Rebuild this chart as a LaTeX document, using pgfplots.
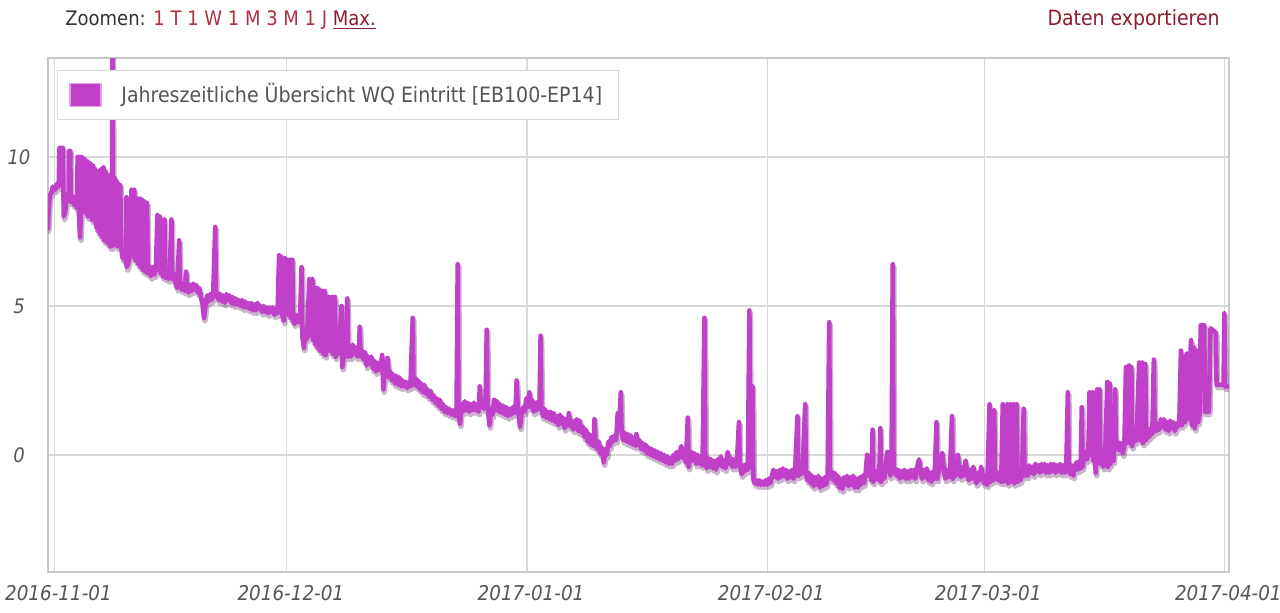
\documentclass[border=0pt]{standalone}
\usepackage{fontspec}
\setmainfont{DejaVu Sans Condensed}
\usepackage{pgfplots}
\pgfplotsset{compat=1.18}
\usepackage{pgfplotstable}
\definecolor{mainp}{RGB}{192,64,202}
\definecolor{shadowp}{RGB}{100,40,110}
\definecolor{legborder}{RGB}{225,160,232}
\definecolor{gridgray}{RGB}{216,216,216}
\definecolor{bordergray}{RGB}{200,200,200}
\definecolor{tickgray}{RGB}{85,85,85}
\definecolor{linkred}{RGB}{176,48,64}
\definecolor{darkred}{RGB}{140,28,44}

\pgfplotstableread{
d v
-0.85 7.6
-0.75 8.2
-0.6 8.7
-0.4 8.8
-0.2 9.0
0.1 8.9
0.3 9.1
0.55 9.0
0.65 10.3
1.1 10.3
1.2 8.0
1.4 8.2
1.6 8.7
1.85 8.7
1.9 10.2
2.05 10.2
2.1 8.5
2.3 8.7
2.5 8.4
2.7 8.6
2.9 8.3
3.0 10.0
3.1 10.0
3.15 8.2
3.3 7.3
3.45 8.2
3.5 10.0
3.6 8.3
3.75 9.95
3.85 8.2
4.0 9.9
4.1 8.1
4.25 9.85
4.35 8.0
4.5 9.8
4.6 8.0
4.75 9.75
4.85 7.9
5.0 9.7
5.1 7.9
5.2 9.6
5.3 7.8
5.5 7.6
5.6 9.5
5.7 7.5
5.85 9.55
5.95 7.4
6.1 9.6
6.2 7.3
6.35 9.65
6.45 7.2
6.6 9.5
6.7 7.15
6.85 9.4
6.95 7.1
7.1 9.3
7.2 7.0
7.3 9.2
7.4 7.0
7.5 13.8
7.55 7.1
7.75 9.3
7.85 7.05
8.0 9.2
8.1 7.0
8.25 9.1
8.35 7.0
8.5 9.05
8.6 7.0
8.8 6.6
9.0 6.9
9.25 6.4
9.3 8.65
9.35 6.3
9.6 6.5
9.8 6.8
9.95 8.9
10.0 6.7
10.3 8.9
10.35 6.6
10.6 6.5
10.75 8.6
10.85 6.4
11.05 8.6
11.15 6.3
11.35 8.55
11.45 6.2
11.65 8.5
11.75 6.15
11.95 8.45
12.05 6.1
12.25 6.35
12.45 6.0
12.65 6.3
12.9 6.05
13.1 6.3
13.3 8.05
13.4 6.2
13.6 8.0
13.7 6.1
13.85 6.35
14.0 6.0
14.2 7.9
14.3 5.95
14.5 6.2
14.7 5.9
14.9 6.15
15.1 7.9
15.2 5.9
15.4 6.1
15.6 5.8
15.85 5.6
16.1 7.2
16.2 5.8
16.4 5.55
16.6 5.75
16.8 5.5
17.0 6.15
17.1 5.65
17.3 5.45
17.5 5.7
17.7 5.5
17.9 5.75
18.1 5.55
18.3 5.7
18.5 5.45
18.7 5.6
18.9 5.3
19.1 5.1
19.3 4.6
19.5 5.0
19.7 5.35
19.9 5.15
20.1 5.4
20.3 5.2
20.5 5.45
20.75 7.65
20.85 5.3
21.0 5.45
21.2 5.2
21.4 5.4
21.6 5.15
21.8 5.35
22.0 5.1
22.2 5.4
22.4 5.2
22.6 5.35
22.8 5.1
23.0 5.3
23.2 5.05
23.4 5.25
23.6 5.05
23.8 5.2
24.0 5.0
24.2 5.2
24.4 4.95
24.6 5.15
24.8 4.95
25.0 5.1
25.2 4.9
25.4 5.1
25.6 4.85
25.8 5.05
26.0 4.85
26.2 5.1
26.4 4.9
26.6 5.0
26.8 4.8
27.0 5.0
27.2 4.8
27.4 4.95
27.6 4.75
27.8 4.95
28.0 4.8
28.2 4.95
28.4 4.7
28.6 4.9
28.8 4.75
29.0 6.7
29.1 4.8
29.3 6.65
29.4 4.7
29.6 4.5
29.75 6.6
29.85 4.8
30.1 6.55
30.2 4.7
30.4 6.55
30.5 4.6
30.7 6.55
30.8 4.5
31.0 4.4
31.2 4.7
31.5 4.45
31.7 4.6
31.9 6.3
32.0 4.0
32.2 3.6
32.4 4.2
32.6 3.9
32.9 5.9
33.0 4.0
33.3 5.9
33.4 3.85
33.6 5.6
33.7 3.7
33.9 5.6
34.0 3.6
34.2 5.55
34.3 3.5
34.6 5.5
34.7 3.4
34.9 5.5
35.0 3.35
35.4 5.3
35.5 3.5
35.8 5.3
35.9 3.4
36.2 5.3
36.3 3.3
36.5 3.6
36.7 3.4
37.05 5.0
37.15 2.95
37.4 3.4
37.6 3.7
37.8 5.25
37.9 3.3
38.1 3.6
38.3 3.3
38.5 3.7
38.7 3.4
38.9 3.6
39.1 3.3
39.3 3.5
39.4 4.3
39.5 3.3
39.7 3.5
39.9 3.2
40.1 3.45
40.3 3.0
40.5 3.3
40.7 3.05
40.9 3.3
41.1 2.9
41.3 3.15
41.5 2.8
41.7 3.1
41.9 2.85
42.1 3.0
42.3 3.35
42.45 2.2
42.6 2.7
42.8 2.9
43.0 3.25
43.15 2.6
43.35 2.8
43.55 2.5
43.75 2.7
43.95 2.4
44.15 2.65
44.35 2.35
44.55 2.6
44.75 2.3
44.95 2.5
45.15 2.3
45.35 2.45
45.55 2.25
45.75 2.45
45.95 2.3
46.25 4.6
46.35 2.35
46.55 2.6
46.75 2.3
46.95 2.5
47.15 2.2
47.35 2.4
47.55 2.1
47.75 2.35
47.95 2.05
48.15 2.2
48.35 1.95
48.55 2.15
48.75 1.85
48.95 2.0
49.15 1.75
49.35 1.9
49.55 1.65
49.75 1.85
49.95 1.55
50.15 1.7
50.35 1.45
50.55 1.6
50.75 1.4
50.95 1.55
51.2 1.35
51.45 1.5
51.7 1.3
51.9 1.45
52.05 6.4
52.15 1.35
52.35 1.05
52.55 1.7
52.75 1.45
52.95 1.8
53.15 1.5
53.35 1.75
53.55 1.45
53.75 1.7
53.95 1.5
54.15 1.75
54.35 1.5
54.55 1.65
54.75 1.45
54.9 2.3
55.05 1.6
55.25 1.85
55.45 1.55
55.65 1.8
55.8 4.2
55.9 1.7
56.15 1.0
56.35 1.55
56.55 1.35
56.75 1.85
56.95 1.5
57.15 1.8
57.35 1.45
57.55 1.7
57.75 1.4
57.95 1.65
58.15 1.35
58.35 1.6
58.55 1.3
58.75 1.55
58.95 1.35
59.15 1.6
59.35 1.4
59.55 1.75
59.65 2.5
59.8 1.6
60.1 0.95
60.3 1.4
60.5 1.6
60.7 1.45
60.9 1.9
61.1 1.6
61.3 2.1
61.45 1.6
61.65 1.85
61.85 1.45
62.05 1.75
62.25 1.5
62.45 1.8
62.6 1.55
62.75 4.0
62.85 1.6
63.05 1.3
63.25 1.55
63.45 1.25
63.65 1.45
63.85 1.2
64.05 1.45
64.25 1.15
64.45 1.4
64.65 1.1
64.85 1.3
65.05 1.0
65.25 1.35
65.45 1.05
65.65 1.25
65.85 0.9
66.05 1.2
66.25 1.0
66.4 1.4
66.6 0.95
66.8 1.15
67.0 0.85
67.2 1.1
67.4 1.2
67.6 0.8
67.8 1.15
68.0 0.75
68.2 0.95
68.4 0.6
68.6 0.85
68.8 0.45
69.0 0.7
69.2 0.35
69.4 0.55
69.6 0.3
69.7 1.2
69.85 0.4
70.05 0.2
70.25 0.45
70.45 0.05
70.65 0.25
70.9 -0.25
71.1 0.2
71.3 0.0
71.5 0.45
71.7 0.3
71.9 0.6
72.1 0.45
72.3 0.65
72.5 0.5
72.7 1.4
72.9 0.9
73.1 2.1
73.2 0.8
73.4 0.5
73.6 0.75
73.8 0.45
74.0 0.7
74.2 0.4
74.4 0.65
74.6 0.35
74.8 0.55
75.0 0.3
75.1 0.7
75.3 0.35
75.5 0.5
75.7 0.2
75.9 0.4
76.1 0.15
76.3 0.35
76.5 0.05
76.7 0.25
76.9 0.0
77.1 0.2
77.3 -0.05
77.5 0.15
77.7 -0.1
77.9 0.1
78.1 -0.15
78.3 0.05
78.5 -0.2
78.7 0.0
78.9 -0.25
79.1 -0.05
79.3 -0.3
79.5 -0.1
79.7 -0.3
79.9 0.0
80.1 -0.2
80.3 0.1
80.5 -0.15
80.7 0.05
80.9 0.3
81.1 -0.1
81.3 0.1
81.5 -0.25
81.75 1.25
81.85 -0.4
82.05 -0.1
82.25 0.1
82.45 -0.2
82.65 0.05
82.85 -0.3
83.05 0.0
83.25 -0.3
83.45 -0.05
83.65 -0.35
83.9 4.6
84.0 -0.2
84.2 -0.45
84.4 -0.1
84.6 -0.4
84.8 -0.15
85.0 -0.45
85.2 -0.2
85.4 -0.5
85.6 -0.15
85.8 -0.35
86.0 -0.05
86.2 -0.4
86.4 -0.2
86.6 -0.45
86.9 0.1
87.1 -0.3
87.3 -0.1
87.5 -0.4
87.7 -0.15
87.9 -0.4
88.1 -0.2
88.35 1.1
88.45 -0.3
88.7 -0.65
88.9 -0.35
89.1 -0.55
89.3 -0.3
89.5 -0.5
89.7 4.85
89.8 -0.4
89.95 -0.2
90.1 2.3
90.2 -0.8
90.4 -0.95
90.6 -0.85
90.8 -1.0
91.0 -0.85
91.2 -1.0
91.4 -0.9
91.6 -1.0
91.8 -0.85
92.0 -1.0
92.2 -0.8
92.4 -0.95
92.6 -0.7
92.8 -0.5
93.0 -0.75
93.2 -0.55
93.4 -0.8
93.6 -0.5
93.8 -0.75
94.0 -0.45
94.2 -0.7
94.4 -0.5
94.6 -0.8
94.8 -0.55
95.0 -0.75
95.2 -0.5
95.4 -0.8
95.6 -0.55
95.9 1.3
96.0 -0.7
96.2 -0.4
96.4 -0.65
96.6 -0.35
96.9 1.7
97.0 -0.65
97.2 -0.85
97.4 -0.6
97.6 -0.95
97.8 -0.7
98.0 -1.05
98.2 -0.75
98.4 -1.0
98.6 -0.7
98.8 -1.1
99.0 -0.8
99.2 -1.05
99.4 -0.75
99.6 -1.0
99.8 -0.8
100.0 4.45
100.1 -0.75
100.3 -0.55
100.5 -0.85
100.7 -0.6
100.9 -0.95
101.1 -0.7
101.3 -1.1
101.5 -0.8
101.7 -1.15
101.9 -0.75
102.1 -1.0
102.3 -0.7
102.5 -1.05
102.7 -0.75
102.9 -1.0
103.1 -0.7
103.3 -1.1
103.5 -0.8
103.7 -1.1
103.9 -0.75
104.1 -1.0
104.3 -0.7
104.5 -0.95
104.7 -0.6
104.9 0.0
105.1 -0.7
105.3 -0.45
105.45 -0.85
105.6 0.85
105.7 -0.9
105.9 -0.55
106.1 -0.8
106.3 -0.5
106.45 -0.85
106.6 0.9
106.7 -0.9
106.9 -0.55
107.1 -0.8
107.3 -0.3
107.5 0.1
107.7 -0.4
107.9 -0.7
108.05 -0.3
108.2 6.4
108.3 -0.6
108.5 -0.45
108.7 -0.7
108.9 -0.5
109.1 -0.8
109.3 -0.55
109.5 -0.75
109.7 -0.5
109.9 -0.8
110.1 -0.55
110.3 -0.8
110.5 -0.5
110.7 -0.75
110.9 -0.5
111.1 -0.8
111.3 -0.45
111.6 -0.15
111.8 -0.6
112.0 -0.8
112.2 -0.5
112.4 -0.75
112.6 -0.45
112.8 -0.85
113.0 -0.6
113.2 -0.9
113.4 -0.55
113.6 -0.8
113.85 1.1
113.95 -0.8
114.15 -0.5
114.35 -0.25
114.6 0.07
114.8 -0.55
115.0 -0.8
115.2 -0.5
115.4 -0.75
115.6 -0.5
115.85 1.3
115.95 -0.8
116.15 -0.45
116.35 -0.7
116.6 0.0
116.8 -0.5
117.0 -0.75
117.2 -0.4
117.4 -0.7
117.6 -0.2
117.8 -0.6
118.0 -0.85
118.2 -0.5
118.4 -0.8
118.6 -0.4
118.8 -0.75
119.0 -0.95
119.2 -0.6
119.4 -0.85
119.6 -0.4
119.8 -0.7
120.0 -0.95
120.2 -0.7
120.4 -1.0
120.7 1.7
120.8 -0.9
121.0 -0.6
121.15 -0.85
121.3 1.5
121.4 -0.8
121.6 -0.55
121.8 -0.85
122.0 -0.6
122.2 -0.9
122.4 1.7
122.5 -0.9
122.75 -0.7
123.0 1.7
123.1 -0.95
123.25 -0.7
123.4 1.7
123.5 -0.9
123.65 -0.75
123.8 1.7
123.9 -0.95
124.05 -0.7
124.2 1.7
124.3 -0.9
124.5 -0.6
124.7 -0.85
124.9 -0.6
125.1 1.55
125.2 -0.7
125.4 -0.45
125.6 -0.7
125.8 -0.35
126.0 -0.6
126.2 -0.4
126.4 -0.65
126.6 -0.3
126.8 -0.55
127.0 -0.35
127.2 -0.6
127.4 -0.3
127.6 -0.55
127.8 -0.3
128.0 -0.6
128.2 -0.35
128.4 -0.6
128.6 -0.3
128.8 -0.55
129.0 -0.3
129.2 -0.6
129.4 -0.35
129.6 -0.55
129.8 -0.3
130.0 -0.6
130.2 -0.35
130.4 -0.6
130.6 -0.4
130.8 2.1
130.9 -0.4
131.1 -0.65
131.3 -0.35
131.5 -0.7
131.7 -0.4
131.9 -0.25
132.1 -0.5
132.3 -0.2
132.45 -0.45
132.6 1.6
132.7 -0.4
132.9 -0.1
133.1 0.1
133.3 -0.15
133.45 0.15
133.6 2.1
133.7 0.0
134.0 2.1
134.1 -0.2
134.25 0.1
134.4 -0.6
134.6 2.2
134.7 0.0
134.9 2.2
135.0 -0.3
135.2 0.0
135.4 -0.4
135.6 -0.1
135.9 2.45
136.0 -0.4
136.2 2.4
136.3 -0.3
136.5 0.1
136.7 -0.2
136.9 2.2
137.0 0.2
137.2 0.45
137.4 0.15
137.6 0.4
137.9 0.05
138.1 0.35
138.3 2.95
138.4 0.4
138.7 3.0
138.8 0.4
139.0 2.95
139.1 0.3
139.3 0.65
139.5 0.45
139.7 0.7
140.0 3.1
140.1 0.5
140.4 3.1
140.5 0.4
140.8 3.05
140.9 0.5
141.1 0.8
141.3 0.6
141.5 0.9
141.7 0.7
141.9 3.2
142.0 1.0
142.2 0.8
142.4 1.05
142.6 0.85
142.8 1.2
143.0 0.95
143.2 1.2
143.4 0.85
143.6 1.1
143.8 0.8
144.0 1.15
144.2 0.9
144.4 1.1
144.6 0.8
144.8 1.05
145.0 0.95
145.2 1.2
145.4 3.5
145.5 1.0
145.8 3.3
145.9 1.1
146.2 3.4
146.3 1.2
146.7 3.85
146.8 1.0
147.1 3.6
147.2 0.9
147.5 3.5
147.6 1.1
147.8 1.35
147.95 4.35
148.4 4.35
148.5 1.45
149.0 1.45
149.2 4.25
149.9 4.1
150.0 2.35
150.9 2.35
151.0 4.75
151.1 2.3
151.5 2.3
}\wq

\begin{document}
\begin{tikzpicture}[x=1pt,y=1pt]
\useasboundingbox (0,0) rectangle (640,-306);
\node[anchor=west, inner sep=0pt, font=\fontsize{10}{12}\selectfont] at (32.5,-10)
  {\textcolor{black!80}{Zoomen:} \textcolor{linkred}{1 T 1 W 1 M 3 M 1 J} \textcolor{darkred}{\underline{Max.}}};
\node[anchor=east, inner sep=0pt, font=\fontsize{10.5}{12}\selectfont, text=darkred] at (610,-10) {Daten exportieren};
\begin{axis}[
  at={(24pt,-286pt)}, anchor=south west,
  scale only axis, width=590.5pt, height=257pt,
  xmin=-0.83, xmax=151.6, ymin=-3.93, ymax=13.32,
  xtick={0,30,61,92,120,151},
  xticklabels={2016-11-01,2016-12-01,2017-01-01,2017-02-01,2017-03-01,2017-04-01},
  ytick={0,5,10}, yticklabels={0,5,10},
  grid=major,
  major grid style={draw=gridgray, line width=0.6pt},
  axis line style={draw=bordergray, line width=0.6pt},
  tick style={draw=none},
  xticklabel style={font=\itshape\fontsize{10.2}{12}\selectfont, text=tickgray, anchor=center, yshift=-10.5pt, xshift=2pt},
  yticklabel style={font=\itshape\fontsize{10}{12}\selectfont, text=tickgray, anchor=center, xshift=-14.5pt},
  legend style={at={(0.0076,0.9767)}, anchor=north west, draw=gridgray, fill=white,
    inner xsep=6pt, inner ysep=4.6pt, font=\fontsize{10.55}{12}\selectfont, text=tickgray,
    cells={anchor=west}},
  legend image code/.code={\draw[draw=legborder, fill=mainp, line width=0.6pt] (0pt,-5.75pt) rectangle (15.5pt,5.75pt); \path (22.5pt,0);},
]
\addplot[draw=shadowp, opacity=0.35, line width=2.8pt, line join=round, line cap=round, xshift=0.5pt, yshift=-1.4pt, forget plot] table[x=d,y=v] {\wq};
\addplot[draw=mainp, line width=2.3pt, line join=round, line cap=round] table[x=d,y=v] {\wq};
\addlegendentry{Jahreszeitliche Übersicht WQ Eintritt [EB100-EP14]}
\end{axis}
\end{tikzpicture}
\end{document}
